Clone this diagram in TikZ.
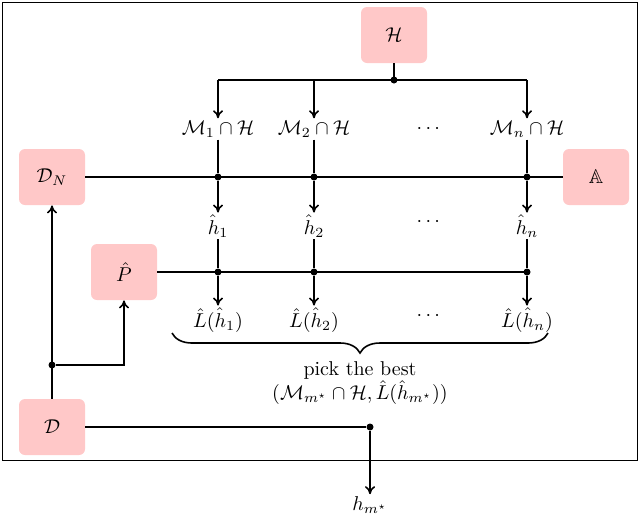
\documentclass[tikz,border=0pt]{standalone}
\usepackage{amsmath,amssymb}
\usetikzlibrary{decorations.pathreplacing,arrows.meta}
\begin{document}
\begin{tikzpicture}[x=0.5pt,y=-0.5pt,
 box/.style={fill={rgb,255:red,255;green,200;blue,200},rounded corners=3pt,minimum width=33pt,minimum height=28pt,inner sep=0pt},
 lab/.style={inner sep=1pt},
 dot/.style={circle,fill,inner sep=0pt,minimum size=3.5pt},
 arr/.style={-{To[length=4pt,width=5pt]},thick},
 ln/.style={thick}]
\useasboundingbox (0,0) rectangle (640,515);
\draw[thin] (2,2) rectangle (637,460);
\node[box] (H) at (394,35) {$\mathcal{H}$};
\node[box] (DN) at (52,177) {$\mathcal{D}_N$};
\node[box] (A) at (596,177) {$\mathbb{A}$};
\node[box] (P) at (124,272) {$\hat{P}$};
\node[box] (D) at (52,427) {$\mathcal{D}$};
\node[lab] (M1) at (218,129) {$\mathcal{M}_1\cap\mathcal{H}$};
\node[lab] (M2) at (314,129) {$\mathcal{M}_2\cap\mathcal{H}$};
\node[lab] (Md) at (430,129) {$\cdots$};
\node[lab] (Mn) at (527,129) {$\mathcal{M}_n\cap\mathcal{H}$};
\node[lab] (h1) at (218,226) {$\hat{h}_1$};
\node[lab] (h2) at (314,226) {$\hat{h}_2$};
\node[lab] (hd) at (430,222) {$\cdots$};
\node[lab] (hn) at (527,226) {$\hat{h}_n$};
\node[lab] (L1) at (218,320) {$\hat{L}(\hat{h}_1)$};
\node[lab] (L2) at (314,320) {$\hat{L}(\hat{h}_2)$};
\node[lab] (Ld) at (430,316) {$\cdots$};
\node[lab] (Ln) at (527,320) {$\hat{L}(\hat{h}_n)$};
\node[lab,align=center] (pick) at (360,383) {pick the best\\$(\mathcal{M}_{m^\star}\cap\mathcal{H},\hat{L}(\hat{h}_{m^\star}))$};
\node[lab] (hm) at (370,505) {$h_{m^\star}$};
% H fan
\coordinate (jH) at (394,80);
\node[dot] at (jH) {};
\draw[ln] (H) -- (jH);
\draw[ln] (218,80) -- (527,80);
\draw[arr] (218,80) -- (M1.north);
\draw[arr] (314,80) -- (M2.north);
\draw[arr] (527,80) -- (Mn.north);
% DN - A line
\draw[ln] (DN) -- (A);
\foreach \x/\a/\b in {218/M1/h1,314/M2/h2,527/Mn/hn}{
 \node[dot] (d\x) at (\x,177) {};
 \draw[ln] (\a.south) -- (d\x);
 \draw[arr] (d\x) -- (\b.north);
}
% P line
\draw[ln] (P) -- (527,272);
\foreach \x/\a/\b in {218/h1/L1,314/h2/L2,527/hn/Ln}{
 \node[dot] (p\x) at (\x,272) {};
 \draw[ln] (\a.south) -- (p\x);
 \draw[arr] (p\x) -- (\b.north);
}
\draw[decorate,decoration={brace,amplitude=10pt,mirror},thick] (172,333) -- (548,333);
% D
\node[dot] (jD) at (370,427) {};
\draw[ln] (D) -- (jD);
\draw[arr] (jD) -- (hm.north);
\node[dot] (jL) at (52,365) {};
\draw[arr] (D) -- (DN);
\draw[arr] (jL) -| (P);
\end{tikzpicture}
\end{document}
